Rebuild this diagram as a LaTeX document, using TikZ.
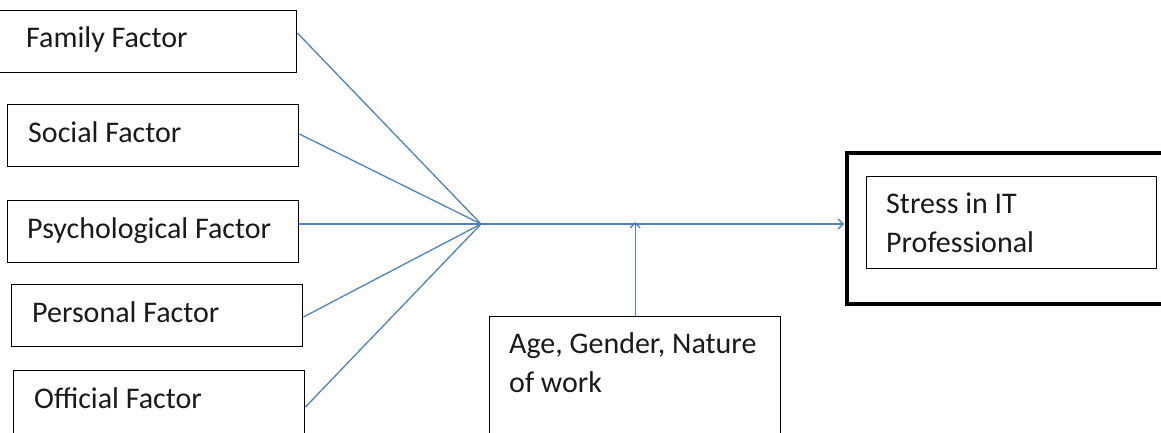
\documentclass[tikz,border=0pt]{standalone}
\usepackage{fontspec}
\setmainfont{Carlito}
\usetikzlibrary{arrows.meta}
\definecolor{conncol}{HTML}{4F81BD}
\definecolor{txtcol}{HTML}{1A1A1A}
\tikzset{
  box/.style={draw=black, line width=1.4pt, rectangle, inner sep=0pt, anchor=north west},
  thickbox/.style={draw=black, line width=3.8pt, rectangle, inner sep=0pt, anchor=north west},
  lbl/.style={inner sep=0pt, anchor=base west, text=txtcol, font=\fontsize{30}{39}\selectfont, align=left},
  conn/.style={draw=conncol, line width=1.3pt},
  arr/.style={conn, -{Straight Barb[length=5pt,width=10pt,line width=1.3pt]}}
}
\begin{document}
\begin{tikzpicture}[x=1pt,y=-1pt]
\useasboundingbox (0,0) rectangle (1161,432);
% left boxes
\node[box, minimum width=299pt, minimum height=62pt] (fam) at (-3,10) {};
\node[lbl] (famt) at (26,47) {Family Factor};
\node[box, minimum width=291pt, minimum height=62pt] (soc) at (7,104) {};
\node[lbl] (soct) at (28,142) {Social Factor};
\node[box, minimum width=291pt, minimum height=62pt] (psy) at (7,200) {};
\node[lbl] (psyt) at (27,238) {Psychological Factor};
\node[box, minimum width=291pt, minimum height=62pt] (per) at (11,284) {};
\node[lbl] (pert) at (32,322) {Personal Factor};
\node[box, minimum width=291pt, minimum height=80pt] (off) at (13,370) {};
\node[lbl] (offt) at (34,408) {Official Factor};
% moderator box
\node[box, minimum width=291pt, minimum height=130pt] (age) at (489,316) {};
\node[lbl] (aget) at (509,392) {Age, Gender, Nature\\of work};
% outcome boxes
\node[thickbox, minimum width=330pt, minimum height=151pt] (out) at (845,151) {};
\node[box, line width=1.2pt, minimum width=290pt, minimum height=92pt] (in) at (866,176) {};
\node[lbl] (int) at (886,252) {Stress in IT\\Professional};
% junction
\coordinate (J) at (481,224);
\draw[conn] (fam.east |- 0,33) -- (J);
\draw[conn] (soc.east |- 0,134) -- (J);
\draw[conn] (psy.east |- J) -- (J);
\draw[conn] (per.east |- 0,317) -- (J);
\draw[conn] (off.east |- 0,407) -- (J);
\draw[arr] (J) -- ([xshift=-1pt]out.west |- J);
\draw[arr] (age.north) -- ([yshift=2pt]age.north |- J);
\end{tikzpicture}
\end{document}
